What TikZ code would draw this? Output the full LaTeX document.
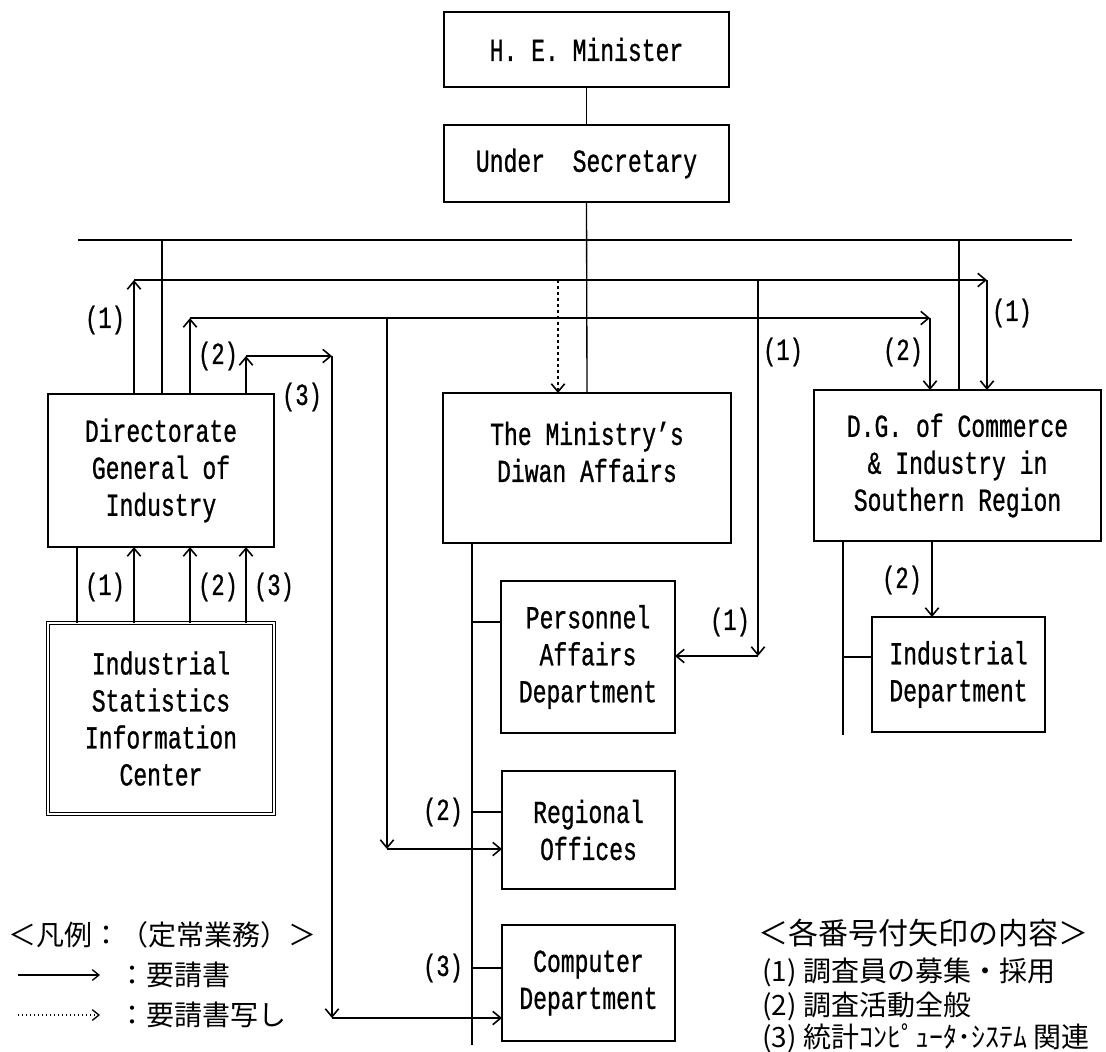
\documentclass[tikz,border=0pt]{standalone}
\usepackage{fontspec}
\setmainfont{Liberation Mono}[FakeStretch=0.72,FakeBold=0.8]
\newfontfamily\cjk{Noto Sans CJK JP}
\usetikzlibrary{arrows.meta}
\begin{document}
\begin{tikzpicture}[x=0.75pt,y=-0.75pt,
  box/.style={draw, line width=1pt, inner sep=0pt, outer sep=0pt, align=center, font=\fontsize{24}{27.75}\selectfont},
  wh/.style 2 args={minimum width=#1*0.75pt, minimum height=#2*0.75pt},
  txt/.style={inner sep=0pt, align=center, font=\fontsize{24}{27.75}\selectfont},
  lab/.style={inner sep=0pt, font=\fontsize{23}{25}\selectfont},
  jp/.style={inner sep=0pt, anchor=west, font=\cjk\fontsize{21}{23}\selectfont},
  jpr/.style={inner sep=0pt, anchor=west, font=\cjk\fontsize{22.5}{24}\selectfont},
  jpi/.style={inner sep=0pt, anchor=west, font=\cjk\fontsize{21}{23}\selectfont},
  ln/.style={line width=1pt},
  tipv/.tip={Straight Barb[length=6pt,width=10pt,line width=1.2pt]},
  arr/.style={line width=1.5pt, -tipv},
  dotarr/.style={line width=1.6pt, dash pattern=on 2pt off 2.5pt, -{Straight Barb[length=6pt,width=10pt,line width=1.2pt,sep=0pt]}}
]
\useasboundingbox (0,0) rectangle (1106,1051);

% boxes
\node[box, wh={285}{75}] (min) at (586.5,49.5) {H. E.~Minister};
\node[box, wh={285}{77}] (us) at (586.5,163.5) {Under\ \ Secretary};
\node[box, wh={226}{153}] (dgi) at (161,470.5) {Directorate\\General of\\Industry};
\node[box, double, double distance=1.6pt, line width=0.8pt, wh={226}{191}] (isic) at (161,718.5) {Industrial\\Statistics\\Information\\Center};
\node[box, wh={288}{150}] (diwan) at (587,468) {};
\node[txt] (diwantxt) at (587,452) {The Ministry's\\Diwan Affairs};
\node[box, wh={287}{151}] (dgcs) at (957.5,465.5) {D.G. of Commerce\\\& Industry in\\Southern Region};
\node[box, wh={174}{152}] (pers) at (588,657) {Personnel\\Affairs\\Department};
\node[box, wh={173}{118}] (reg) at (588.5,830) {Regional\\Offices};
\node[box, wh={173}{116}] (comp) at (588.5,983) {Computer\\Department};
\node[box, wh={173}{115}] (ind) at (958.5,674.5) {Industrial\\Department};

% coordinates
\coordinate (busL) at (78,240);
\coordinate (busR) at (1072,240);
\coordinate (b1) at (162,240);
\coordinate (b2) at (959,240);
\coordinate (p1) at (134,280);
\coordinate (q1) at (987,280);
\coordinate (r1) at (758,280);
\coordinate (s1) at (758,656);
\coordinate (d1) at (558,280);
\coordinate (p2) at (190,318);
\coordinate (q2) at (930,318);
\coordinate (r2) at (387,318);
\coordinate (s2) at (387,849);
\coordinate (p3) at (246,356);
\coordinate (q3) at (332,356);
\coordinate (s3) at (332,1018);
\coordinate (u0) at (77,600);
\coordinate (t) at (472,1045);
\coordinate (tp) at (472,622);
\coordinate (tr) at (472,812);
\coordinate (tc) at (472,968);
\coordinate (t2) at (843,735);
\coordinate (t2i) at (843,657);
\coordinate (a2) at (932,580);

% hierarchy lines
\draw[ln] (min.south) -- (us.north);
\draw[ln] (us.south) -- (diwan.north);
\draw[ln] (busL) -- (busR);
\draw[ln] (b1) -- (b1 |- dgi.north);
\draw[ln] (b2) -- (b2 |- dgcs.north);
\draw[ln] (u0 |- isic.north) -- (u0 |- dgi.south);
\draw[ln] (t |- diwan.south) -- (t);
\draw[ln] (tp) -- (tp -| pers.west);
\draw[ln] (tr) -- (tr -| reg.west);
\draw[ln] (tc) -- (tc -| comp.west);
\draw[ln] (t2 |- dgcs.south) -- (t2);
\draw[ln] (t2i) -- (t2i -| ind.west);

% request arrows (1)
\draw[arr] (p1 |- dgi.north) -- (p1);
\draw[arr] (p1) -- (q1);
\draw[arr] (q1) -- (q1 |- dgcs.north);
\draw[arr] (r1) -- (s1);
\draw[arr] (s1) -- (s1 -| pers.east);
\draw[dotarr] (d1) -- (d1 |- diwan.north);
% (2)
\draw[arr] (p2 |- dgi.north) -- (p2);
\draw[arr] (p2) -- (q2);
\draw[arr] (q2) -- (q2 |- dgcs.north);
\draw[arr] (r2) -- (s2);
\draw[arr] (s2) -- (s2 -| reg.west);
\draw[arr] (a2 |- dgcs.south) -- (a2 |- ind.north);
% (3)
\draw[arr] (p3 |- dgi.north) -- (p3);
\draw[arr] (p3) -- (q3);
\draw[arr] (q3) -- (s3);
\draw[arr] (s3) -- (s3 -| comp.west);
% ISIC to DGI
\draw[arr] (p1 |- isic.north) -- (p1 |- dgi.south);
\draw[arr] (p2 |- isic.north) -- (p2 |- dgi.south);
\draw[arr] (p3 |- isic.north) -- (p3 |- dgi.south);

% labels
\node[lab] (l1a) at (105,320) {(1)};
\node[lab] (l2a) at (218,356) {(2)};
\node[lab] (l3a) at (302,397) {(3)};
\node[lab] (l1b) at (783,352) {(1)};
\node[lab] (l2b) at (903,352) {(2)};
\node[lab] (l1c) at (1012,313) {(1)};
\node[lab] (l1d) at (730,622) {(1)};
\node[lab] (l2d) at (902,580) {(2)};
\node[lab] (l1e) at (105,587) {(1)};
\node[lab] (l2e) at (218,587) {(2)};
\node[lab] (l3e) at (274,587) {(3)};
\node[lab] (l2f) at (443,812) {(2)};
\node[lab] (l3f) at (443,968) {(3)};

% legends
\node[jp] (leg0) at (8,935) {＜凡例：（定常業務）＞};
\coordinate (la1) at (18,975);
\coordinate (la2) at (100,975);
\coordinate (lb1) at (18,1015);
\coordinate (lb2) at (100,1015);
\draw[line width=1pt, -{Straight Barb[length=5pt,width=8pt,line width=1pt]}] (la1) -- (la2);
\draw[line width=1pt, dash pattern=on 1pt off 2pt, -{Straight Barb[length=5pt,width=8pt,line width=1pt]}] (lb1) -- (lb2);
\node[jp] (leg1) at (118,975) {：要請書};
\node[jp] (leg2) at (118,1015) {：要請書写し};

\node[jpr] (rl0) at (758,933) {＜各番号付矢印の内容＞};
\node[jpi] (rl1) at (762,972) {(1) 調査員の募集・採用};
\node[jpi] (rl2) at (762,1006) {(2) 調査活動全般};
\node[jpi] (rl3) at (762,1038) {(3) 統計ｺﾝﾋﾟｭｰﾀ･ｼｽﾃﾑ 関連};
\end{tikzpicture}
\end{document}
